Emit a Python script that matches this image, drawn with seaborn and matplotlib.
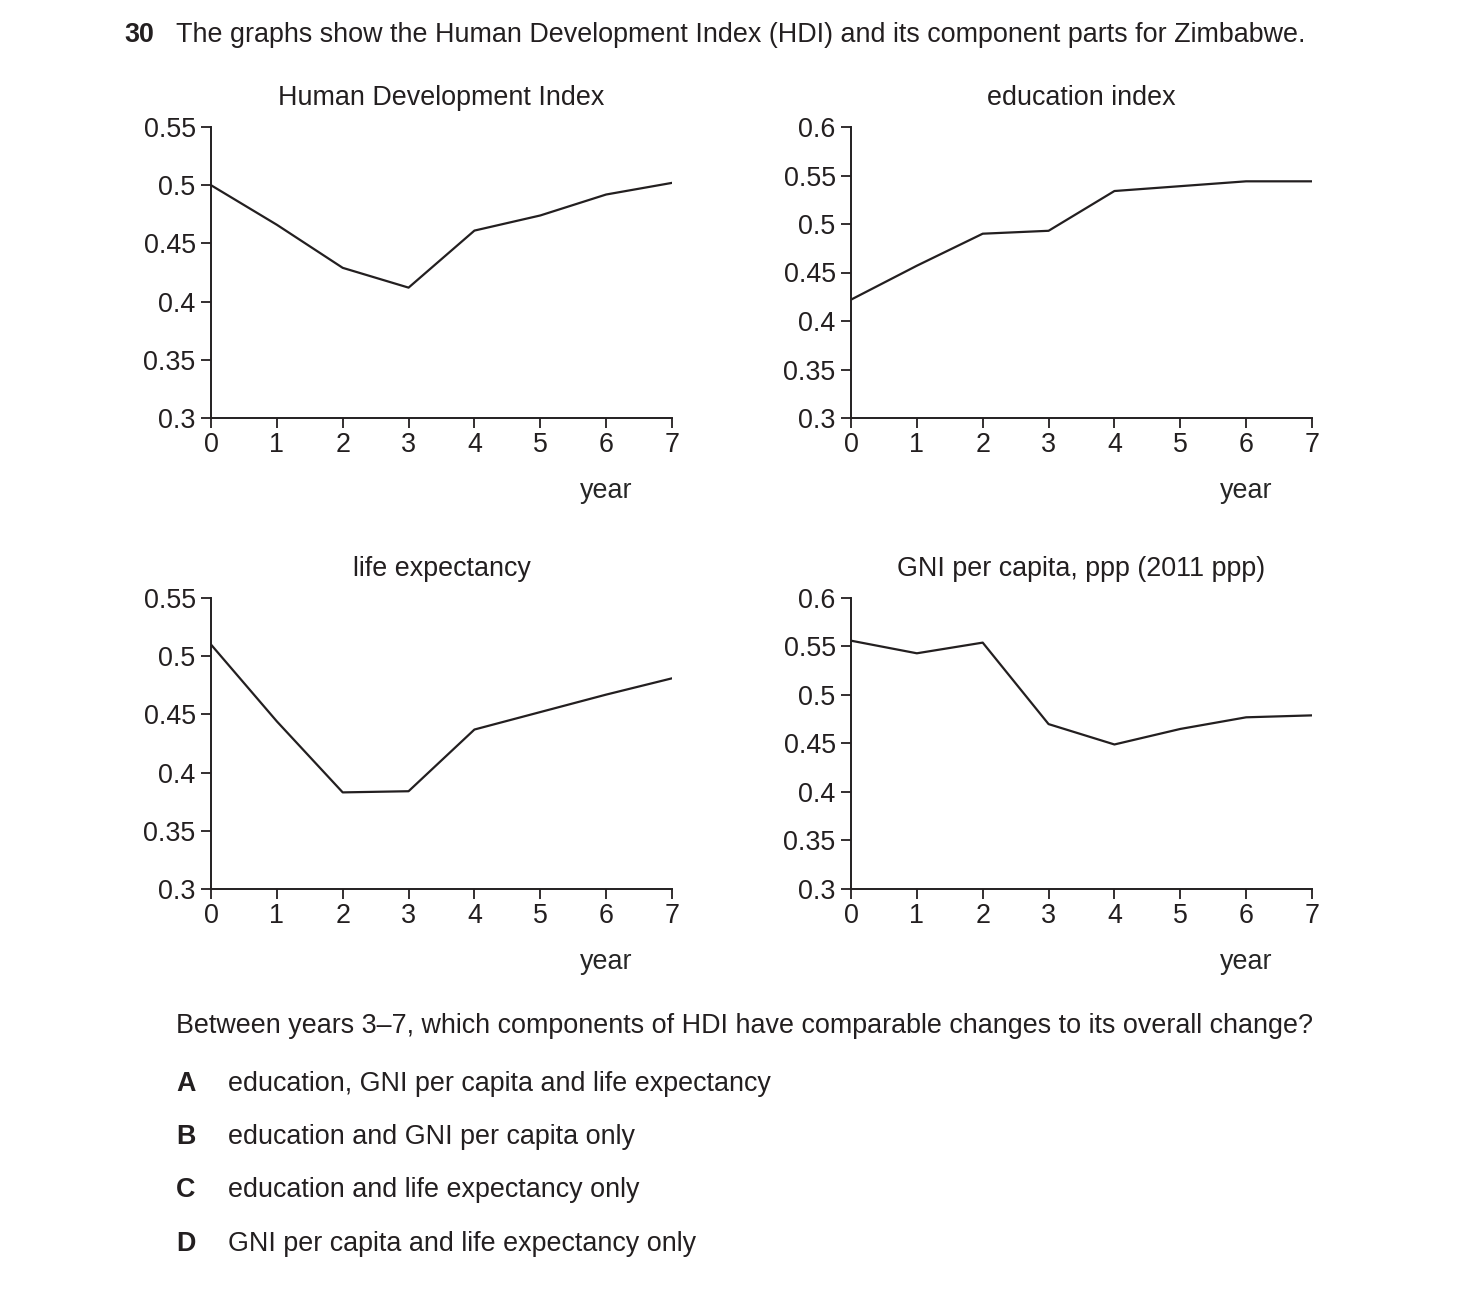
import matplotlib
matplotlib.use("Agg")
import matplotlib.pyplot as plt
import seaborn as sns
import pandas as pd

years = [0, 1, 2, 3, 4, 5, 6, 7]
hdi = [0.500, 0.466, 0.429, 0.412, 0.461, 0.474, 0.492, 0.502]
education = [0.422, 0.457, 0.490, 0.493, 0.534, 0.539, 0.544, 0.544]
life_expectancy = [0.510, 0.444, 0.383, 0.384, 0.437, 0.452, 0.467, 0.481]
gni = [0.556, 0.543, 0.554, 0.470, 0.449, 0.465, 0.477, 0.479]

titles = ["Human Development Index", "education index",
          "life expectancy", "GNI per capita, ppp (2011 ppp)"]
yticks_a = [0.3, 0.35, 0.4, 0.45, 0.5, 0.55]
ylabels_a = ["0.3", "0.35", "0.4", "0.45", "0.5", "0.55"]
yticks_b = [0.3, 0.35, 0.4, 0.45, 0.5, 0.55, 0.6]
ylabels_b = ["0.3", "0.35", "0.4", "0.45", "0.5", "0.55", "0.6"]
xlabel = "year"

header_num = "30"
header = "The graphs show the Human Development Index (HDI) and its component parts for Zimbabwe."
question = "Between years 3\u20137, which components of HDI have comparable changes to its overall change?"
option_letters = ["A", "B", "C", "D"]
option_texts = ["education, GNI per capita and life expectancy",
                "education and GNI per capita only",
                "education and life expectancy only",
                "GNI per capita and life expectancy only"]

sns.set_style("ticks")
plt.rcParams['font.family'] = ['Liberation Sans', 'DejaVu Sans']
ink = "#231f20"
plt.rcParams['text.color'] = ink
plt.rcParams['axes.edgecolor'] = ink
plt.rcParams['xtick.color'] = ink
plt.rcParams['ytick.color'] = ink

fig = plt.figure(figsize=(14.64, 12.96), dpi=100)
W, H = 1464, 1296

def axes_px(x0, x1, ytop, ybot):
    return fig.add_axes([x0 / W, 1 - ybot / H, (x1 - x0) / W, (ybot - ytop) / H])

specs = [
    (axes_px(211, 672, 127, 418), hdi, yticks_a, ylabels_a, titles[0]),
    (axes_px(851, 1312, 127, 418), education, yticks_b, ylabels_b, titles[1]),
    (axes_px(211, 672, 598, 889), life_expectancy, yticks_a, ylabels_a, titles[2]),
    (axes_px(851, 1312, 598, 889), gni, yticks_b, ylabels_b, titles[3]),
]

fs = 19.4
for ax, vals, yt, yl, title in specs:
    df = pd.DataFrame({"year": years, "value": vals})
    sns.lineplot(data=df, x="year", y="value", ax=ax, color=ink, linewidth=1.6)
    ax.set_xlim(0, 7)
    ax.set_ylim(yt[0], yt[-1])
    ax.set_xticks(years)
    ax.set_xticklabels([str(y) for y in years], fontsize=fs)
    ax.set_yticks(yt)
    ax.set_yticklabels(yl, fontsize=fs)
    ax.tick_params(axis='both', length=7, width=1.3)
    ax.tick_params(axis='y', pad=4)
    ax.tick_params(axis='x', pad=3)
    for s in ["top", "right"]:
        ax.spines[s].set_visible(False)
    for s in ["left", "bottom"]:
        ax.spines[s].set_linewidth(1.4)
    ax.set_ylabel("")
    ax.set_xlabel(xlabel, fontsize=fs)
    ax.xaxis.set_label_coords(6 / 7, -0.205)
    ax.set_title(title, fontsize=fs, pad=16)

fig.text(124 / W, 1 - 35 / H, header_num, fontsize=fs, fontweight='bold', va='center', ha='left')
fig.text(176 / W, 1 - 35 / H, header, fontsize=fs, va='center', ha='left')
fig.text(176 / W, 1 - 1026 / H, question, fontsize=fs, va='center', ha='left')
for i, (l, t) in enumerate(zip(option_letters, option_texts)):
    yy = [1084, 1137, 1190, 1244][i]
    fig.text(176 / W, 1 - yy / H, l, fontsize=fs, fontweight='bold', va='center', ha='left')
    fig.text(228 / W, 1 - yy / H, t, fontsize=fs, va='center', ha='left')

fig.savefig("out.png", dpi=100)
